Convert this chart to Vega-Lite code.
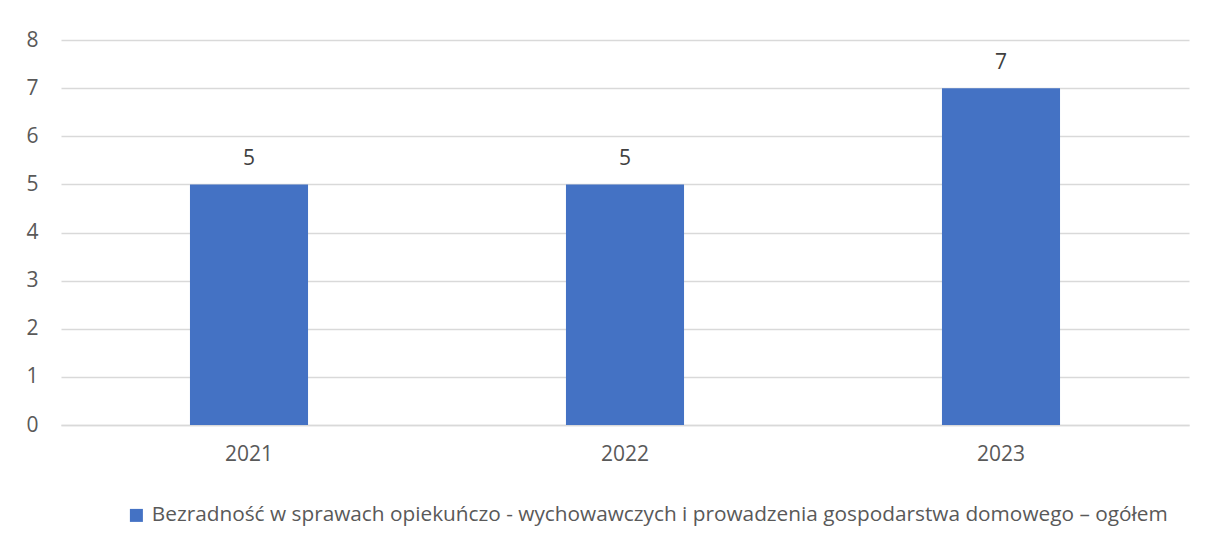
{
  "$schema": "https://vega.github.io/schema/vega-lite/v6.json",
  "autosize": "none",
  "width": 1128,
  "height": 385,
  "padding": {"left": 61, "top": 40, "right": 18, "bottom": 115},
  "background": "white",
  "data": {
    "values": [
      {"rok": "2021", "wartosc": 5, "seria": "Bezradność w sprawach opiekuńczo - wychowawczych i prowadzenia gospodarstwa domowego – ogółem"},
      {"rok": "2022", "wartosc": 5, "seria": "Bezradność w sprawach opiekuńczo - wychowawczych i prowadzenia gospodarstwa domowego – ogółem"},
      {"rok": "2023", "wartosc": 7, "seria": "Bezradność w sprawach opiekuńczo - wychowawczych i prowadzenia gospodarstwa domowego – ogółem"}
    ]
  },
  "encoding": {
    "x": {
      "field": "rok",
      "type": "nominal",
      "scale": {"paddingInner": 0.686, "paddingOuter": 0.343},
      "axis": {
        "title": null,
        "labelAngle": 0,
        "ticks": false,
        "domain": true,
        "domainColor": "#D9D9D9",
        "domainWidth": 1.3,
        "labelPadding": 18,
        "labelFont": "Open Sans",
        "labelFontSize": 21,
        "labelColor": "#595959"
      }
    },
    "y": {
      "field": "wartosc",
      "type": "quantitative",
      "scale": {"domain": [0, 8], "nice": false},
      "axis": {
        "title": null,
        "values": [0, 1, 2, 3, 4, 5, 6, 7, 8],
        "labelOverlap": false,
        "ticks": false,
        "domain": false,
        "grid": true,
        "gridColor": "#D9D9D9",
        "gridWidth": 1.3,
        "labelPadding": 23,
        "labelFont": "Open Sans",
        "labelFontSize": 21,
        "labelColor": "#595959"
      }
    }
  },
  "layer": [
    {
      "mark": {"type": "bar", "color": "#4472C4"},
      "encoding": {
        "color": {
          "field": "seria",
          "type": "nominal",
          "scale": {"range": ["#4472C4"]},
          "legend": {
            "title": null,
            "orient": "none",
            "legendX": 65,
            "legendY": 465,
            "symbolType": "square",
            "symbolSize": 169,
            "symbolStrokeWidth": 0,
            "symbolOpacity": 1,
            "labelLimit": 0,
            "labelFont": "Open Sans",
            "labelFontSize": 20.8,
            "labelColor": "#595959",
            "labelOffset": 5
          }
        }
      }
    },
    {
      "mark": {"type": "text", "baseline": "alphabetic", "dy": -19, "font": "Open Sans", "fontSize": 21, "color": "#404040"},
      "encoding": {"text": {"field": "wartosc", "type": "quantitative"}}
    }
  ],
  "config": {"view": {"stroke": null}}
}
